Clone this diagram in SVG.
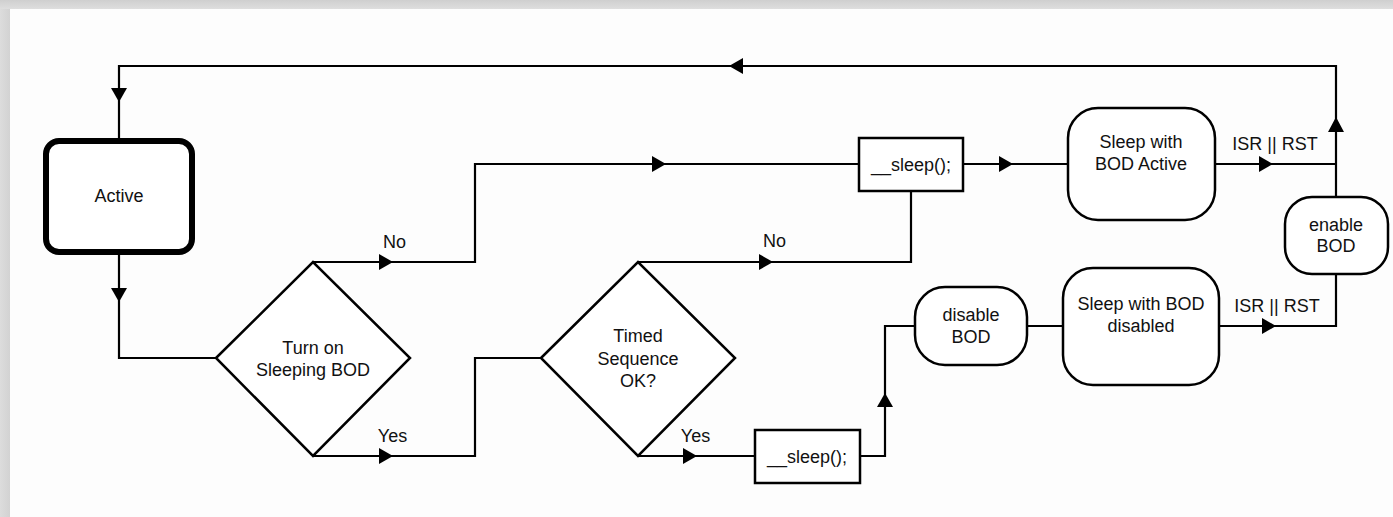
<svg xmlns="http://www.w3.org/2000/svg" width="1393" height="517" viewBox="0 0 1393 517">
<defs>
<linearGradient id="gt" x1="0" y1="0" x2="0" y2="1"><stop offset="0" stop-color="#cfcfcf"/><stop offset="1" stop-color="#dedede"/></linearGradient>
<linearGradient id="gl" x1="0" y1="0" x2="1" y2="0"><stop offset="0" stop-color="#dcdcdc"/><stop offset="1" stop-color="#d2d2d2"/></linearGradient>
<style>
.ln{fill:none;stroke:#000;stroke-width:2.2}
.nd{fill:#fff;stroke:#000;stroke-width:2.5}
.ar{fill:#000;stroke:none}
text{font-family:"Liberation Sans",Arial,Helvetica,sans-serif;font-size:18px;fill:#111;text-anchor:middle}
</style>
</defs>
<rect x="0" y="0" width="1393" height="517" fill="#fdfdfd"/>
<rect x="0" y="0" width="10" height="517" fill="url(#gl)"/>
<rect x="0" y="0" width="1393" height="9" fill="url(#gt)"/>

<g id="connectors">
<path class="ln" d="M1336,197 V66 H119 V141"/>
<polygon class="ar" points="1336,117 1328,132 1344,132"/>
<polygon class="ar" points="729,66 743,58 743,74"/>
<polygon class="ar" points="119,102 111,88 127,88"/>

<path class="ln" d="M119,252 V358 H216"/>
<polygon class="ar" points="119,302 111,288 127,288"/>

<path class="ln" d="M313,262 H475 V164 H859"/>
<polygon class="ar" points="393,262 379,254 379,270"/>
<polygon class="ar" points="666,164 652,156 652,172"/>

<path class="ln" d="M313,456 H475 V358 H541"/>
<polygon class="ar" points="393,456 379,448 379,464"/>

<path class="ln" d="M638,262 H911 V191"/>
<polygon class="ar" points="773,262 759,254 759,270"/>

<path class="ln" d="M638,456 H755"/>
<polygon class="ar" points="697,456 683,448 683,464"/>

<path class="ln" d="M963,164 H1068"/>
<polygon class="ar" points="1013,164 999,156 999,172"/>

<path class="ln" d="M1215,164 H1336"/>
<polygon class="ar" points="1273,164 1259,156 1259,172"/>

<path class="ln" d="M860,456 H885 V326 H915"/>
<polygon class="ar" points="885,393 877,407 893,407"/>

<path class="ln" d="M1027,326 H1063"/>

<path class="ln" d="M1219,326 H1336 V274"/>
<polygon class="ar" points="1276,326 1262,318 1262,334"/>

<text x="394.5" y="248">No</text>
<text x="392.5" y="442">Yes</text>
<text x="774.5" y="247">No</text>
<text x="695.5" y="442">Yes</text>
<text x="1275" y="150">ISR || RST</text>
<text x="1277" y="311.5">ISR || RST</text>
</g>

<g id="active">
<rect x="46" y="141" width="146" height="111" rx="13" fill="#fff" stroke="#000" stroke-width="6"/>
<text x="119" y="202">Active</text>
</g>

<g id="turn-on-bod">
<polygon class="nd" points="216,358 313,262 410,358 313,456"/>
<text x="313" y="354">Turn on</text>
<text x="313" y="376">Sleeping BOD</text>
</g>

<g id="timed-seq">
<polygon class="nd" points="541,358 638,262 735,358 638,456"/>
<text x="638" y="342">Timed</text>
<text x="638" y="365">Sequence</text>
<text x="638" y="387">OK?</text>
</g>

<g id="sleep-top">
<rect class="nd" x="859" y="138" width="104" height="53"/>
<text x="911" y="171">__sleep();</text>
</g>

<g id="sleep-bod-active">
<rect class="nd" x="1068" y="108" width="147" height="112" rx="30"/>
<text x="1141" y="148">Sleep with</text>
<text x="1141" y="170">BOD Active</text>
</g>

<g id="enable-bod">
<rect class="nd" x="1285" y="197" width="103" height="77" rx="27"/>
<text x="1336" y="231">enable</text>
<text x="1336" y="252">BOD</text>
</g>

<g id="sleep-bottom">
<rect class="nd" x="755" y="430" width="105" height="53"/>
<text x="807" y="463">__sleep();</text>
</g>

<g id="disable-bod">
<rect class="nd" x="915" y="287" width="112" height="78" rx="30"/>
<text x="971" y="321">disable</text>
<text x="971" y="343">BOD</text>
</g>

<g id="sleep-bod-disabled">
<rect class="nd" x="1063" y="268" width="156" height="117" rx="30"/>
<text x="1141" y="310">Sleep with BOD</text>
<text x="1141" y="332">disabled</text>
</g>
</svg>
